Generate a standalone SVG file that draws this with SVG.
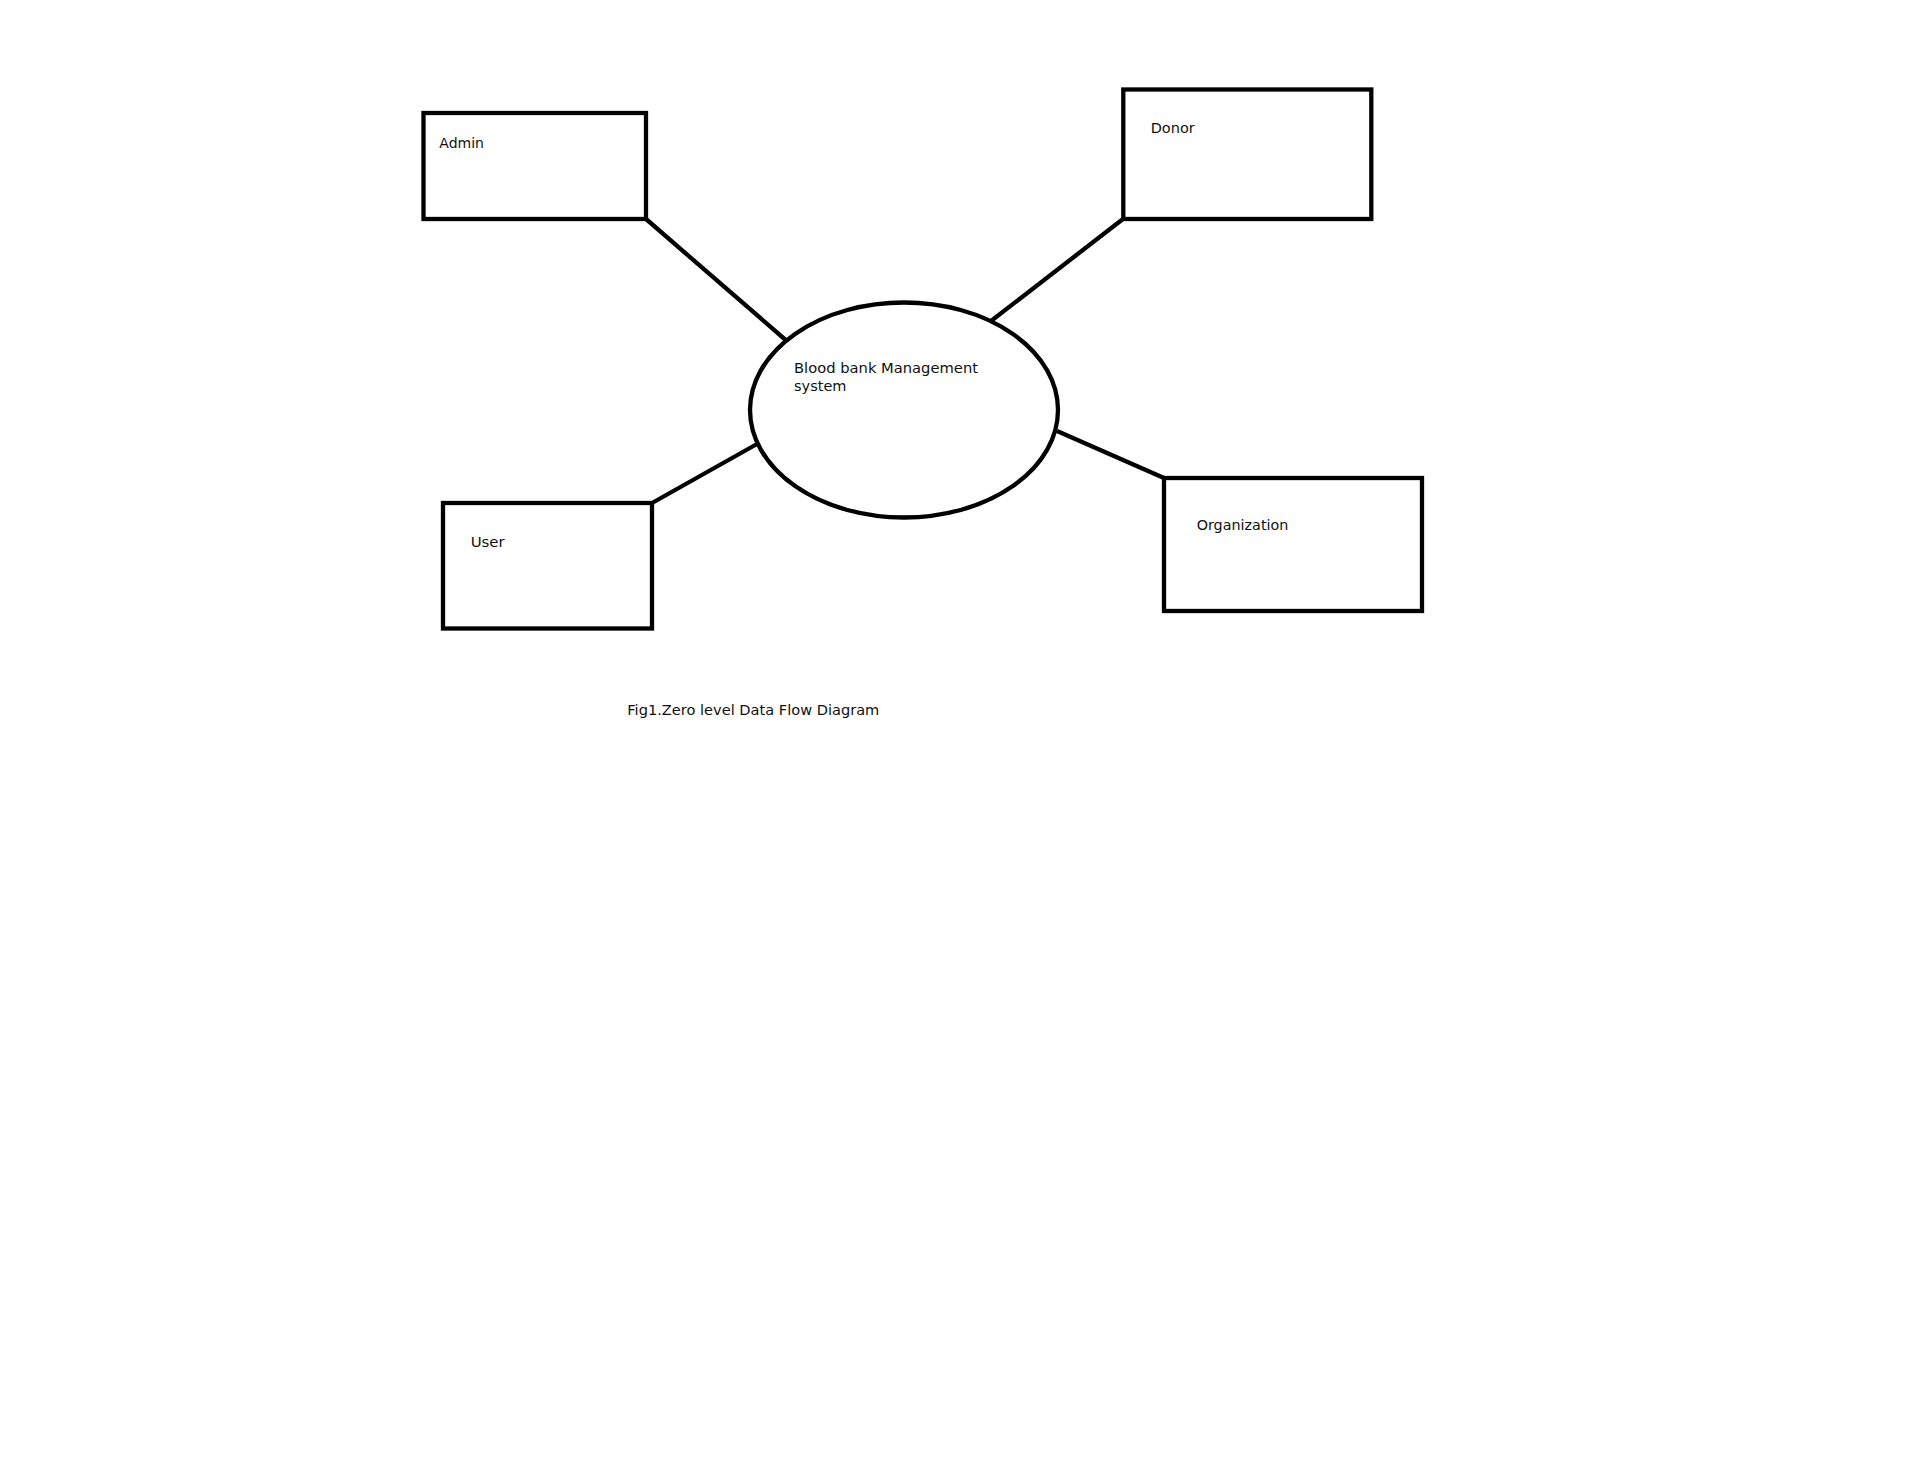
<svg xmlns="http://www.w3.org/2000/svg" width="1908" height="1462" viewBox="0 0 1908 1462">
<style>
.box{fill:#fff;stroke:#000;stroke-width:4.3}
.conn{stroke:#000;stroke-width:4.3;fill:none}
.t{font-family:"DejaVu Sans",Verdana,sans-serif;font-size:14.5px;fill:#111}
</style>
<rect width="1908" height="1462" fill="#fff"/>
<g id="connectors">
<line class="conn" x1="646" y1="219" x2="788" y2="342"/>
<line class="conn" x1="1123" y1="219" x2="991" y2="321"/>
<line class="conn" x1="652" y1="503" x2="757" y2="444"/>
<line class="conn" x1="1057" y1="431" x2="1164" y2="478"/>
</g>
<g id="process">
<ellipse class="box" cx="904" cy="410" rx="154" ry="107.5"/>
<text class="t" x="794" y="372.7" textLength="184" lengthAdjust="spacingAndGlyphs">Blood bank Management</text>
<text class="t" x="794" y="390.5">system</text>
</g>
<g id="admin">
<rect class="box" x="423.5" y="113" width="222.5" height="106"/>
<text class="t" x="439.3" y="147.7" textLength="44.7" lengthAdjust="spacingAndGlyphs">Admin</text>
</g>
<g id="donor">
<rect class="box" x="1123.3" y="89.5" width="248" height="129.5"/>
<text class="t" x="1150.7" y="132.7">Donor</text>
</g>
<g id="user">
<rect class="box" x="443" y="503" width="209" height="125.5"/>
<text class="t" x="470.7" y="546.7" textLength="34" lengthAdjust="spacingAndGlyphs">User</text>
</g>
<g id="organization">
<rect class="box" x="1164" y="478" width="258" height="133"/>
<text class="t" x="1196.7" y="530" textLength="91.7" lengthAdjust="spacingAndGlyphs">Organization</text>
</g>
<text class="t" x="627.3" y="715" textLength="252" lengthAdjust="spacingAndGlyphs">Fig1.Zero level Data Flow Diagram</text>
</svg>
